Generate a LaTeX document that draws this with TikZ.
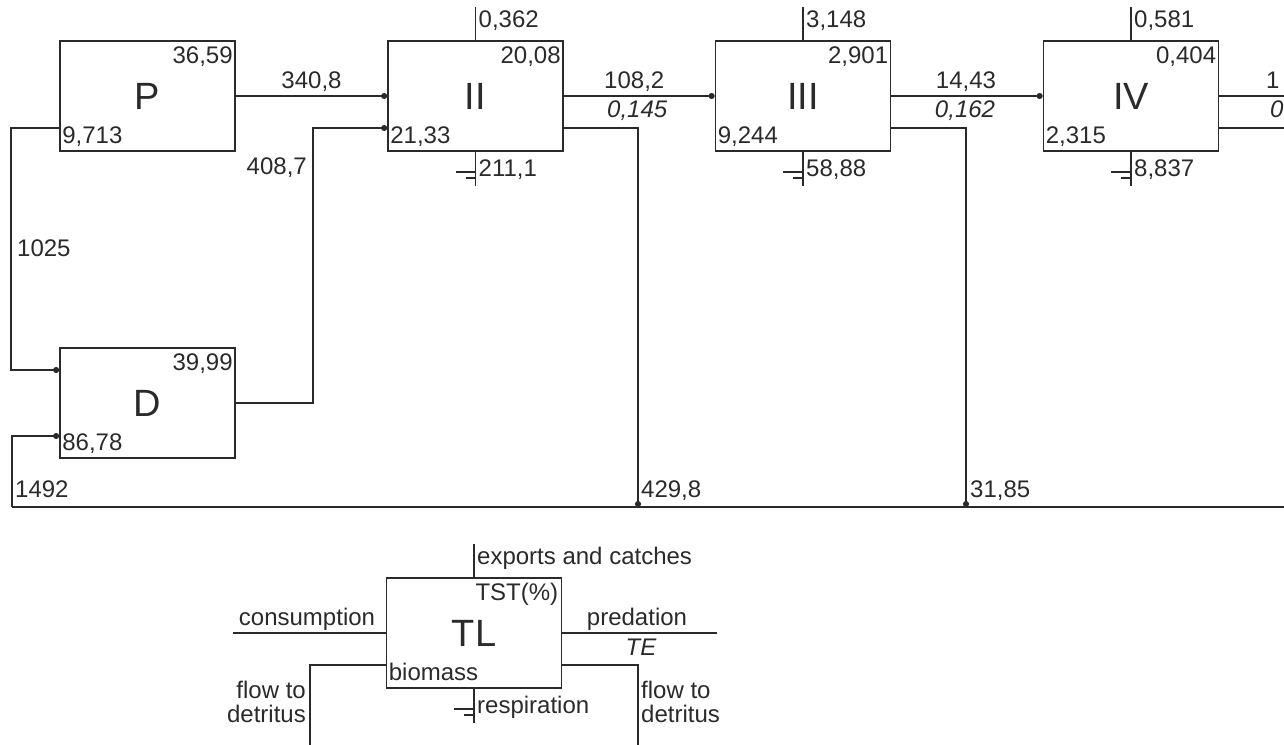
\documentclass[tikz,border=0pt]{standalone}
\usepackage{fontspec}
\setmainfont{Liberation Sans}
\usetikzlibrary{arrows.meta,calc}
\definecolor{ink}{HTML}{2A2A2A}
\begin{document}
\begin{tikzpicture}[x=1pt,y=-1pt,
  box/.style={draw=ink,line width=1.7pt,minimum width=175pt,minimum height=110pt,inner sep=0pt,text=ink,font=\fontsize{38}{42}\selectfont},
  num/.style={inner sep=0pt,text=ink,font=\fontsize{24}{27}\selectfont},
  itnum/.style={inner sep=0pt,text=ink,font=\fontsize{24}{27}\selectfont\itshape},
  flow/.style={draw=ink,line width=1.7pt},
  dotflow/.style={flow,-{Circle[length=6pt,width=6pt]}},
]
\useasboundingbox (0,0) rectangle (1284,744);
\clip (0,0) rectangle (1284,744);

% ---------- boxes ----------
\node[box] (P)   at (147.5,96) {P};
\node[box] (II)  at (475.5,96) {II};
\node[box] (III) at (803,96)   {III};
\node[box] (IV)  at (1131,96)  {IV};
\node[box] (D)   at (147.5,403) {D};
\node[box] (TL)  at (474,633)  {TL};

% ---------- inside labels ----------
\node[num,anchor=base east] at ($(P.north east)+(-3,23)$) {36,59};
\node[num,anchor=base west] at ($(P.south west)+(3,-8)$) {9,713};
\node[num,anchor=base east] at ($(II.north east)+(-3,23)$) {20,08};
\node[num,anchor=base west] at ($(II.south west)+(3,-8)$) {21,33};
\node[num,anchor=base east] at ($(III.north east)+(-3,23)$) {2,901};
\node[num,anchor=base west] at ($(III.south west)+(3,-8)$) {9,244};
\node[num,anchor=base east] at ($(IV.north east)+(-3,23)$) {0,404};
\node[num,anchor=base west] at ($(IV.south west)+(3,-8)$) {2,315};
\node[num,anchor=base east] at ($(D.north east)+(-3,23)$) {39,99};
\node[num,anchor=base west] at ($(D.south west)+(3,-8)$) {86,78};
\node[num,anchor=base east] at ($(TL.north east)+(-4,23)$) {TST(\%)};
\node[num,anchor=base west] at ($(TL.south west)+(3,-8)$) {biomass};

% ---------- exports (top) and respiration (bottom) ----------
\foreach \b/\e/\r in {II/{0,362}/{211,1}, III/{3,148}/{58,88}, IV/{0,581}/{8,837}, TL/{exports and catches}/{respiration}}{
  \draw[flow] (\b.north) -- ++(0,-33) coordinate (\b-ex);
  \node[num,anchor=base west] at ($(\b.north)+(3,-13)$) {\e};
  \draw[flow] (\b.south) -- ++(0,34) coordinate (\b-re);
  \draw[flow] ($(\b.south)+(-20,20)$) -- ++(20,0);
  \draw[flow] ($(\b.south)+(-10,26)$) -- ++(10,0);
  \node[num,anchor=base west] at ($(\b.south)+(3,25)$) {\r};
}

% ---------- predation flows ----------
\draw[dotflow] (P.east) -- (II.west);
\node[num,anchor=base] at ($(P.east)!0.5!(II.west)+(0,-8)$) {340,8};
\draw[dotflow] (II.east) -- (III.west);
\node[num,anchor=base] at ($(II.east)!0.5!(III.west)+(-5,-8)$) {108,2};
\node[itnum,anchor=base] at ($(II.east)!0.5!(III.west)+(-2,21)$) {0,145};
\draw[dotflow] (III.east) -- (IV.west);
\node[num,anchor=base] at ($(III.east)!0.5!(IV.west)+(-1,-8)$) {14,43};
\node[itnum,anchor=base] at ($(III.east)!0.5!(IV.west)+(-2,21)$) {0,162};
\coordinate (IVout) at (1290,96);
\coordinate (IVdet) at (1290,128);
\draw[flow] (IV.east) -- (IVout);
\draw[flow] ($(IV.east)+(0,32)$) -- (IVdet);
\node[num,anchor=base west] at (1266,88) {1};
\node[itnum,anchor=base west] at (1270,117) {0};

% ---------- detritus loops ----------
\draw[dotflow] (D.east) -- ++(77,0) |- ($(II.west)+(0,32)$);
\node[num,anchor=base east] at (307,174) {408,7};
\draw[dotflow] ($(P.west)+(0,32)$) -- ++(-48,0) |- ($(D.west)+(0,-33)$);
\node[num,anchor=base west] at (17,256) {1025};

\coordinate (bl) at (12,507);
\coordinate (br) at (1290,507);
\coordinate (IIdet) at (638,507);
\coordinate (IIIdet) at (966,507);
\draw[flow] (bl) -- (br);
\draw[dotflow] (bl) |- ($(D.west)+(0,33)$);
\node[num,anchor=base west] at (15,497) {1492};
\draw[dotflow] ($(II.east)+(0,32)$) -| (IIdet);
\node[num,anchor=base west] at (641,497) {429,8};
\draw[dotflow] ($(III.east)+(0,32)$) -| (IIIdet);
\node[num,anchor=base west] at (970,497) {31,85};

% ---------- legend ----------
\coordinate (cin) at (233,633);
\coordinate (pout) at (717,633);
\draw[flow] (cin) -- (TL.west);
\node[num,anchor=base] at (307,625) {consumption};
\draw[flow] (TL.east) -- (pout);
\node[num,anchor=base] at (637,625) {predation};
\node[itnum,anchor=base] at (641,655) {TE};
\coordinate (ldet) at (310,750);
\coordinate (rdet) at (638,750);
\draw[flow] ($(TL.west)+(0,32)$) -| (ldet);
\draw[flow] ($(TL.east)+(0,32)$) -| (rdet);
\node[num,anchor=base east] at (306,698) {flow to};
\node[num,anchor=base east] at (306,722) {detritus};
\node[num,anchor=base west] at (641,698) {flow to};
\node[num,anchor=base west] at (641,722) {detritus};
\end{tikzpicture}
\end{document}
